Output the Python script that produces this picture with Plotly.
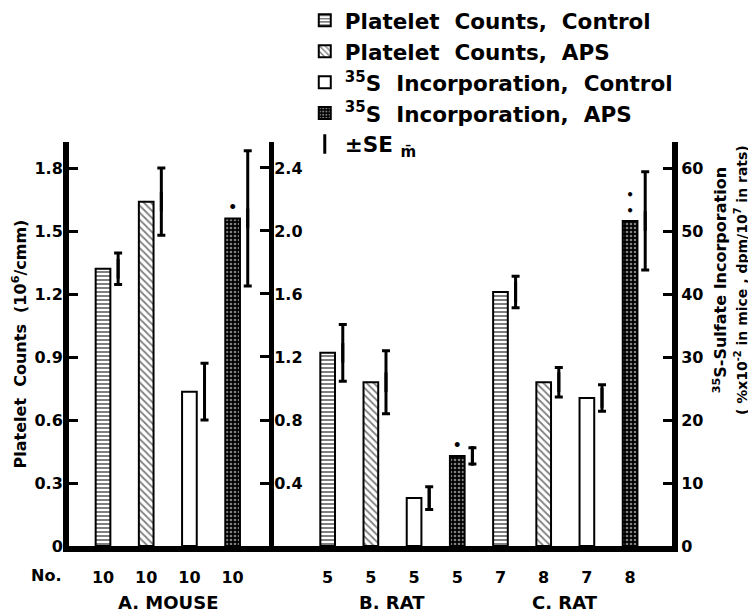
import plotly.graph_objects as go

# ---------------- data ----------------
groups = ["A. MOUSE", "B. RAT", "C. RAT"]
n_animals = [10, 10, 10, 10, 5, 5, 5, 5, 7, 8, 7, 8]

# platelet counts (10^6/cmm), left axis: mouse, rat B, rat C
platelet_control = [1.32, 0.92, 1.21]
platelet_control_se = [0.075, 0.135, 0.075]
platelet_aps = [1.64, 0.78, 0.78]
platelet_aps_se = [0.16, 0.15, 0.07]

# 35S-sulfate incorporation: mouse in %x10^-2 (middle axis), rats in dpm/10^7 (right axis)
s35_control = [0.98, 7.6, 23.5]
s35_control_se = [0.18, 1.8, 2.1]
s35_aps = [2.08, 14.3, 51.6]
s35_aps_se = [0.43, 1.3, 7.8]
s35_aps_signif = ["•", "•", "•<br>•"]

left_ticks = [0, 0.3, 0.6, 0.9, 1.2, 1.5, 1.8]
left_ticktext = ["0", "0.3", "0.6", "0.9", "1.2", "1.5", "1.8"]
mid_ticks = [0.4, 0.8, 1.2, 1.6, 2.0, 2.4]
mid_ticktext = ["0.4", "0.8", "1.2", "1.6", "2.0", "2.4"]
right_ticks = [0, 10, 20, 30, 40, 50, 60]
right_ticktext = ["0", "10", "20", "30", "40", "50", "60"]

# ---------------- layout helpers ----------------
group_start = [0, 5.2, 9.2]
pos = [s + i for s in group_start for i in range(4)]
pc_x = [pos[g * 4 + 0] for g in range(3)]
pa_x = [pos[g * 4 + 1] for g in range(3)]
sc_x = [pos[g * 4 + 2] for g in range(3)]
sa_x = [pos[g * 4 + 3] for g in range(3)]
ERR_OFF = 0.35
BW = 0.34
NB = "\u00a0"

line = dict(color="black", width=2)

fig = go.Figure()

fig.add_trace(go.Bar(
    x=pc_x, y=platelet_control, width=BW, yaxis="y",
    name=f"Platelet{NB} Counts,{NB} Control", legendgroup="g1",
    marker=dict(color="white", line=line,
                pattern=dict(shape="-", fgcolor="black", bgcolor="white", size=4, solidity=0.5)),
))
fig.add_trace(go.Bar(
    x=pa_x, y=platelet_aps, width=BW, yaxis="y",
    name=f"Platelet{NB} Counts,{NB} APS", legendgroup="g2",
    marker=dict(color="white", line=line,
                pattern=dict(shape="\\", fgcolor="black", bgcolor="white", size=5, solidity=0.35)),
))
fig.add_trace(go.Bar(
    x=sc_x[:1], y=s35_control[:1], width=BW, yaxis="y2",
    name=f"<sup>35</sup>S{NB} Incorporation,{NB} Control", legendgroup="g3",
    marker=dict(color="white", line=line),
))
fig.add_trace(go.Bar(
    x=sc_x[1:], y=s35_control[1:], width=BW, yaxis="y3",
    name="35S Control rats", legendgroup="g3", showlegend=False,
    marker=dict(color="white", line=line),
))
aps_pattern = dict(shape=".", fgcolor="white", bgcolor="black", size=4, solidity=0.35)
fig.add_trace(go.Bar(
    x=sa_x[:1], y=s35_aps[:1], width=BW, yaxis="y2",
    name=f"<sup>35</sup>S{NB} Incorporation,{NB} APS", legendgroup="g4",
    marker=dict(color="black", line=line, pattern=aps_pattern),
    text=s35_aps_signif[:1], textposition="outside", constraintext="none",
    textfont=dict(size=14, color="black"), cliponaxis=False,
))
fig.add_trace(go.Bar(
    x=sa_x[1:], y=s35_aps[1:], width=BW, yaxis="y3",
    name="35S APS rats", legendgroup="g4", showlegend=False,
    marker=dict(color="black", line=line, pattern=aps_pattern),
    text=s35_aps_signif[1:], textposition="outside", constraintext="none",
    textfont=dict(size=[14, 12], color="black"), cliponaxis=False,
))

# error bars drawn beside the bars
err_marker = dict(symbol="line-ns-open", size=14, color="black", line=dict(color="black", width=3))
err_style = dict(type="data", color="black", thickness=3, width=4)

fig.add_trace(go.Scatter(
    x=[v + ERR_OFF for v in pc_x + pa_x],
    y=platelet_control + platelet_aps, yaxis="y", mode="markers",
    marker=err_marker, name=f"±SE{NB}<sub>m̄</sub>", legendgroup="g5",
    error_y=dict(array=platelet_control_se + platelet_aps_se, **err_style),
    cliponaxis=False,
))
fig.add_trace(go.Scatter(
    x=[sc_x[0] + ERR_OFF, sa_x[0] + ERR_OFF],
    y=[s35_control[0], s35_aps[0]], yaxis="y2", mode="markers",
    marker=err_marker, showlegend=False, legendgroup="g5",
    error_y=dict(array=[s35_control_se[0], s35_aps_se[0]], **err_style),
    cliponaxis=False,
))
fig.add_trace(go.Scatter(
    x=[v + ERR_OFF for v in sc_x[1:] + sa_x[1:]],
    y=s35_control[1:] + s35_aps[1:], yaxis="y3", mode="markers",
    marker=err_marker, showlegend=False, legendgroup="g5",
    error_y=dict(array=s35_control_se[1:] + s35_aps_se[1:], **err_style),
    cliponaxis=False,
))

axis_common = dict(showgrid=False, zeroline=False, showline=True, linecolor="black",
                   ticks="inside", ticklen=9, tickwidth=3, tickcolor="black",
                   tickfont=dict(size=16, color="black", weight="bold"))

# the page body adds an 8px margin, so the figure is 8px smaller on each axis
fig.update_layout(
    width=748, height=604,
    margin=dict(l=61, r=84, t=134, b=66, pad=0, autoexpand=False),
    paper_bgcolor="white", plot_bgcolor="white",
    font=dict(family="DejaVu Sans", size=16, color="black", weight="bold"),
    barmode="overlay",
    showlegend=True,
    legend=dict(x=0.391, y=1.352, xanchor="left", yanchor="top",
                font=dict(size=21.5, color="black", weight="bold"),
                tracegroupgap=0, bgcolor="rgba(0,0,0,0)", itemsizing="trace"),
    xaxis=dict(range=[-0.787, 13.17], showline=True, linewidth=6, linecolor="black",
               tickvals=pos, ticktext=[str(n) for n in n_animals], ticks="",
               showgrid=False, zeroline=False, ticklabelstandoff=12,
               tickfont=dict(size=16, color="black", weight="bold")),
    yaxis=dict(range=[0, 1.924], tickvals=left_ticks, ticktext=left_ticktext,
               linewidth=6, side="left", ticklabelstandoff=-3,
               title=dict(text=f"Platelet{NB} Counts{NB} (10<sup>6</sup>/cmm)", standoff=6,
                          font=dict(size=16, color="black", weight="bold")),
               **axis_common),
    yaxis2=dict(overlaying="y", anchor="free", position=0.335, side="right",
                range=[0, 2.565], tickvals=mid_ticks, ticktext=mid_ticktext,
                linewidth=5, ticklabelstandoff=-3, **axis_common),
    yaxis3=dict(overlaying="y", anchor="x", side="right",
                range=[0, 64.13], tickvals=right_ticks, ticktext=right_ticktext,
                linewidth=6, **axis_common),
)

# right-hand axis title (two lines)
fig.add_annotation(
    x=1.096, y=0.658, xref="paper", yref="paper", xanchor="center", yanchor="middle",
    textangle=-90, showarrow=False,
    text=("<sup>35</sup>S-Sulfate Incorporation<br>"
          f"<span style='font-size:14px'>({NB}%x10<sup>-2</sup> in mice{NB}, "
          "dpm/10<sup>7</sup> in rats)</span>"),
    font=dict(size=16, color="black", weight="bold"),
)
# "No." row label
fig.add_annotation(x=-0.038, y=-0.072, xref="paper", yref="paper", showarrow=False,
                   xanchor="center", yanchor="middle",
                   text="No.", font=dict(size=16, color="black", weight="bold"))
# group labels
for g, name in enumerate(groups):
    fig.add_annotation(x=group_start[g] + 1.5, y=-0.141, xref="x", yref="paper",
                       xanchor="center", yanchor="middle", showarrow=False, text=name,
                       font=dict(size=18, color="black", weight="bold"))

fig.write_html("out.html")
